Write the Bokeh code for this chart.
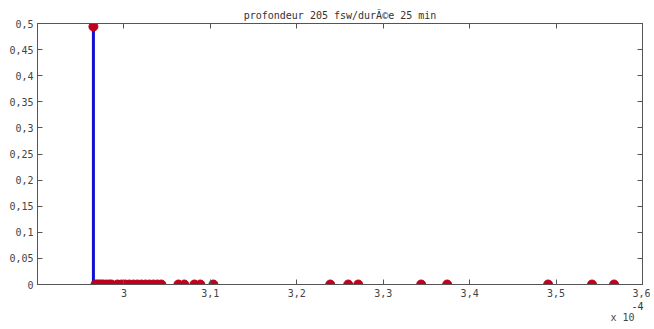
from bokeh.plotting import figure
from bokeh.models import Range1d, LinearAxis, FixedTicker, CustomJSTickFormatter, Title
from bokeh.embed import file_html
from bokeh.resources import INLINE

# x values in units of 1e-4
x_vals = [2.9647, 2.9671, 2.9694, 2.9717, 2.9740, 2.9763, 2.9798, 2.9832, 2.9856,
          2.9925, 2.9971, 3.0017, 3.0064, 3.0111, 3.0156, 3.0202, 3.0249, 3.0295,
          3.0341, 3.0387, 3.0433, 3.0630, 3.0699, 3.0815, 3.0884, 3.1035,
          3.2387, 3.2595, 3.2711, 3.3439, 3.3740, 3.4908, 3.5416, 3.5671]
y_vals = [0.494] + [0.0] * 33
x_ticks = [3.0, 3.1, 3.2, 3.3, 3.4, 3.5, 3.6]
y_ticks = [0, 0.05, 0.1, 0.15, 0.2, 0.25, 0.3, 0.35, 0.4, 0.45, 0.5]
title_text = "profondeur 205 fsw/durÃ©e 25 min"
exp_base = "x 10"
exp_power = "-4"

FONT = "DejaVu Sans Mono"
AX = "#555555"
W, H = 650, 327

p = figure(width=W, height=H, output_backend="svg", toolbar_location=None,
           x_range=Range1d(2.9, 3.6), y_range=Range1d(0, 0.5),
           min_border_left=37, min_border_right=W - 642, min_border_top=23,
           min_border_bottom=H - 284,
           x_axis_location=None, y_axis_location=None)
p.title.text = title_text
p.title.align = "center"
p.title.text_font = FONT
p.title.text_font_size = "10px"
p.title.text_font_style = "normal"
p.title.text_color = "#333333"
p.title.standoff = 5
p.title.offset = 0

p.grid.visible = False
p.outline_line_color = AX
p.outline_line_width = 1

fmt = CustomJSTickFormatter(code="""
var s = tick.toFixed(2).replace(/0+$/, '').replace(/\\.$/, '');
return s.replace('.', ',');
""")
blank = CustomJSTickFormatter(code="return '';")

def make_axis(ticks, show_labels):
    a = LinearAxis(ticker=FixedTicker(ticks=ticks), formatter=fmt if show_labels else blank)
    a.major_tick_in = 5
    a.major_tick_out = 0
    a.minor_tick_line_color = None
    a.axis_line_color = AX
    a.major_tick_line_color = AX
    a.major_label_text_font = FONT
    a.major_label_text_font_size = "10px"
    a.major_label_text_color = "#444444"
    a.major_label_standoff = 4
    if not show_labels:
        a.major_label_standoff = 0
    return a

p.add_layout(make_axis(x_ticks, True), "below")
p.add_layout(make_axis(y_ticks, True), "left")
p.add_layout(make_axis(x_ticks, False), "above")
p.add_layout(make_axis(y_ticks, False), "right")

y0 = [0.0] * len(x_vals)
p.segment(x0=x_vals, y0=y0, x1=x_vals, y1=y_vals, line_color="#1010d0", line_width=3)
p.scatter(x_vals, y_vals, size=9, fill_color="#c0001c", line_color="#c0001c")

p.add_layout(Title(text=exp_power, align="right", offset=-1, standoff=0,
                   text_font=FONT, text_font_size="10px", text_font_style="normal",
                   text_color="#333333"), "below")
p.add_layout(Title(text=exp_base, align="right", offset=8, standoff=0,
                   text_font=FONT, text_font_size="10px", text_font_style="normal",
                   text_color="#444444"), "below")

open("out.html", "w").write(file_html(p, INLINE))
